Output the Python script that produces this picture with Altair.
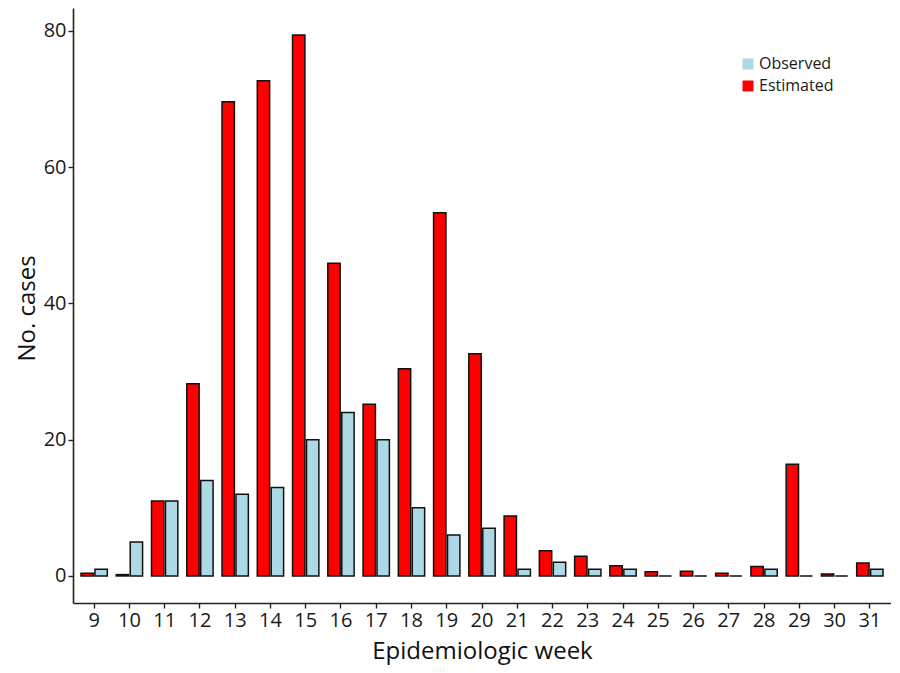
# Grouped bars: observed vs estimated cases by epidemiologic week
import pandas as pd
import altair as alt

# ------------------------------------------------------------
# data
# ------------------------------------------------------------
weeks = list(range(9, 32))
observed = [1, 5, 11, 14, 12, 13, 20, 24, 20, 10, 6, 7,
            1, 2, 1, 1, 0, 0, 0, 1, 0, 0, 1]
estimated = [0.4, 0.2, 11.0, 28.2, 69.6, 72.7, 79.4, 45.9, 25.2, 30.4, 53.3, 32.6,
             8.8, 3.7, 2.9, 1.5, 0.6, 0.7, 0.4, 1.4, 16.4, 0.3, 1.9]

series_order = ["Observed", "Estimated"]

df = pd.concat([
    pd.DataFrame({"week": weeks, "cases": observed, "series": "Observed"}),
    pd.DataFrame({"week": weeks, "cases": estimated, "series": "Estimated"}),
], ignore_index=True)

FONT = "Open Sans"

color_scale = alt.Scale(domain=series_order, range=["#ADD8E6", "#FF0000"])

bars = alt.Chart(df).mark_bar(stroke="#111111", strokeWidth=1.5).encode(
    x=alt.X(
        "week:O",
        title="Epidemiologic week",
        scale=alt.Scale(paddingInner=0, paddingOuter=0.1),
        axis=alt.Axis(
            labelAngle=0, labelFontSize=20, labelPadding=2,
            tickSize=5, titleFontSize=24, titleFontWeight="normal",
            titleBaseline="alphabetic", titleY=55,
        ),
    ),
    xOffset=alt.XOffset(
        "series:N", sort=["Estimated", "Observed"],
        scale=alt.Scale(paddingInner=0.115, paddingOuter=0.32),
    ),
    y=alt.Y(
        "cases:Q",
        title="No. cases",
        scale=alt.Scale(domain=[-3.97, 83.37], nice=False, zero=False),
        axis=alt.Axis(
            values=[0, 20, 40, 60, 80], labelFontSize=20, labelPadding=2,
            tickSize=5, grid=False, titleFontSize=24, titleFontWeight="normal",
            titleBaseline="alphabetic", titleX=-39, titleY=300, titleAngle=-90,
        ),
    ),
    y2=alt.datum(0),
    color=alt.Color(
        "series:N", scale=color_scale, title=None,
        legend=alt.Legend(
            orient="none", legendX=667, legendY=48, symbolType="square",
            symbolSize=121, symbolStrokeWidth=0, labelFontSize=16,
            labelOffset=3, rowPadding=6, padding=0,
        ),
    ),
)

chart = bars.properties(
    width=818,
    height=595,
    autosize=alt.AutoSizeParams(type="none"),
    padding={"left": 65, "top": 0, "right": 0, "bottom": 62},
    background="white",
).configure_view(
    stroke=None
).configure_axis(
    grid=False,
    domainColor="#222222",
    domainWidth=1.6,
    tickColor="#222222",
    tickWidth=1.4,
    labelColor="#1a1a1a",
    titleColor="#111111",
    labelFont=FONT,
    titleFont=FONT,
).configure_legend(
    labelFont=FONT,
    labelColor="#1a1a1a",
)

chart.save("out.html", embed_options={"renderer": "svg", "actions": False})
